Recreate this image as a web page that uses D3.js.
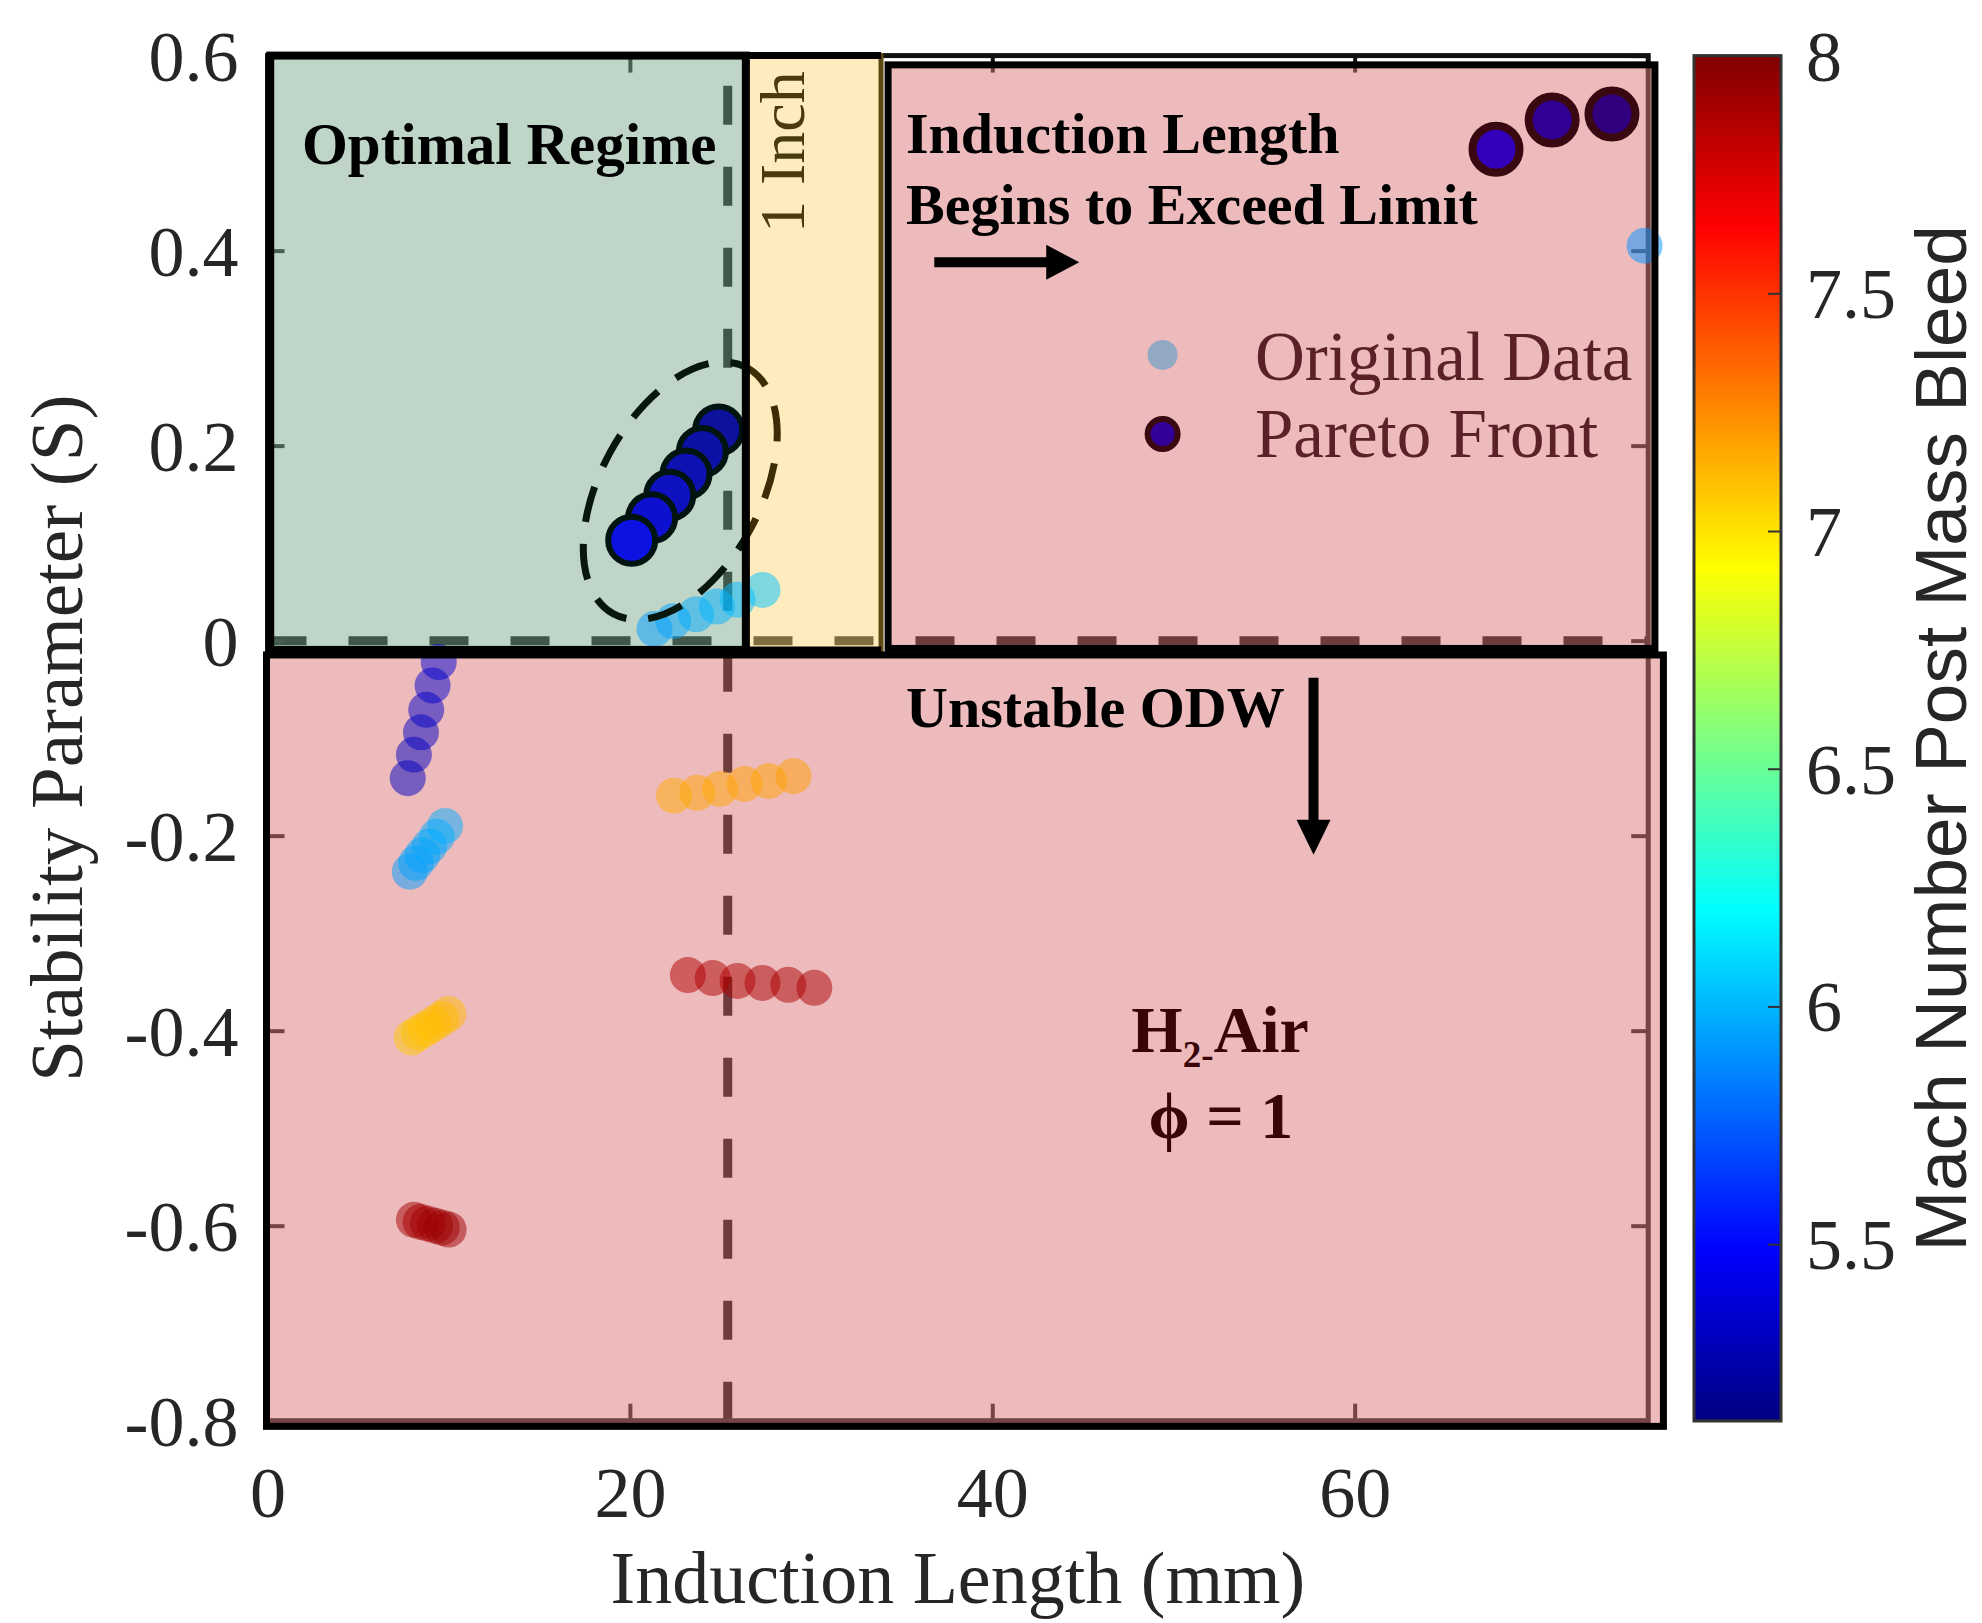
<!DOCTYPE html>
<html><head><meta charset="utf-8">
<script src="https://cdn.jsdelivr.net/npm/d3@7"></script>
<style>html,body{margin:0;padding:0;background:#fff;}svg{display:block;}</style>
</head><body>
<svg id="chart" width="1982" height="1623"></svg>
<script>
// ---------------- data ----------------
const xTickValues = [0, 20, 40, 60];
const yTickValues = [0.6, 0.4, 0.2, 0, -0.2, -0.4, -0.6, -0.8];
const cbTickValues = [5.5, 6, 6.5, 7, 7.5, 8];

// Original data (induction length mm, stability parameter S, Mach number post bleed)
const origX = [9.45, 9.11, 8.76, 8.47, 8.08, 7.74,
               7.85, 8.20, 8.54, 8.93, 9.34, 9.80,
               7.96, 8.35, 8.75, 9.17, 9.58, 9.98,
               8.08, 8.45, 8.85, 9.25, 9.62, 10.0,
               22.43, 23.72, 24.98, 26.33, 27.66, 29.03,
               23.2, 24.57, 25.94, 27.32, 28.74, 30.18,
               21.36, 22.39, 23.65, 24.8, 25.94, 27.32,
               76.0];
const origY = [-0.022, -0.046, -0.071, -0.094, -0.117, -0.141,
               -0.237, -0.228, -0.220, -0.211, -0.201, -0.190,
               -0.407, -0.402, -0.398, -0.393, -0.388, -0.383,
               -0.594, -0.596, -0.598, -0.600, -0.602, -0.604,
               -0.159, -0.156, -0.152, -0.147, -0.144, -0.139,
               -0.343, -0.346, -0.349, -0.351, -0.353, -0.356,
               0.012, 0.020, 0.027, 0.035, 0.042, 0.052,
               0.405];
const origMach = [5.35, 5.34, 5.33, 5.32, 5.31, 5.30,
                  5.93, 5.94, 5.95, 5.96, 5.97, 5.98,
                  7.08, 7.09, 7.10, 7.10, 7.11, 7.12,
                  7.90, 7.90, 7.91, 7.91, 7.92, 7.92,
                  7.16, 7.17, 7.17, 7.18, 7.18, 7.19,
                  7.86, 7.87, 7.87, 7.88, 7.88, 7.89,
                  5.93, 5.95, 5.97, 5.99, 6.01, 6.04,
                  5.90];

// Pareto front
const paretoX = [20.1, 21.2, 22.2, 23.1, 24.0, 24.9, 67.8, 70.9, 74.2];
const paretoY = [0.103, 0.126, 0.149, 0.171, 0.194, 0.216, 0.504, 0.534, 0.540];
const paretoMach = [5.43, 5.37, 5.32, 5.28, 5.24, 5.21, 5.45, 5.30, 5.22];

// shaded regions (data units)
const regionX0 = [0.15, 26.4, 34.25, -0.055];
const regionX1 = [26.4, 33.86, 76.57, 77.04];
const regionY0 = [-0.0095, -0.0095, -0.008, -0.8058];
const regionY1 = [0.6, 0.6, 0.5905, -0.0147];

const colorMin = 5.128, colorMax = 8;

// ---------------- setup ----------------
const svg = d3.select("#chart");
const defs = svg.append("defs");
const serif = "'Liberation Serif','Times New Roman',Times,serif";
const sans = "'Liberation Sans',Arial,Helvetica,sans-serif";

const x = d3.scaleLinear().domain([0, 76.2]).range([267.5, 1648.2]);
const y = d3.scaleLinear().domain([-0.8, 0.6]).range([1420.7, 55.6]);
const cbY = d3.scaleLinear().domain([colorMin, colorMax]).range([1421, 55.6]);

const jetFrac = [0, 1/8, 3/8, 5/8, 7/8, 1];
const jetCols = ["#000080", "#0000ff", "#00ffff", "#ffff00", "#ff0000", "#800000"];
const jet = d3.scaleLinear()
  .domain(jetFrac.map(f => colorMin + f * (colorMax - colorMin)))
  .range(jetCols).clamp(true);

svg.append("rect").attr("width", 1982).attr("height", 1623).attr("fill", "#fff");

// ---------------- base layer (below overlays) ----------------
const base = svg.append("g");

base.append("line")
  .attr("x1", x(25.4)).attr("x2", x(25.4))
  .attr("y1", y(-0.8)).attr("y2", y(0.6))
  .attr("stroke", "#000").attr("stroke-width", 9).attr("stroke-dasharray", "39 42");
base.append("line")
  .attr("x1", x(0)).attr("x2", x(76.2))
  .attr("y1", y(0)).attr("y2", y(0))
  .attr("stroke", "#000").attr("stroke-width", 9).attr("stroke-dasharray", "39 42");

base.append("rect")
  .attr("x", x(0)).attr("y", y(0.6))
  .attr("width", x(76.2) - x(0)).attr("height", y(-0.8) - y(0.6))
  .attr("fill", "none").attr("stroke", "#111").attr("stroke-width", 5);

function styleAxis(g, tickW) {
  g.select(".domain").remove();
  g.selectAll(".tick line").attr("stroke", "#111").attr("stroke-width", tickW);
  g.selectAll(".tick text").attr("font-family", serif).attr("font-size", 72).attr("fill", "#262626");
}
const fmt = d => String(d);

const xAxisB = base.append("g").attr("transform", `translate(0,${y(-0.8)})`)
  .call(d3.axisBottom(x).tickValues(xTickValues).tickFormat(fmt).tickSizeInner(-17).tickSizeOuter(0).tickPadding(45));
styleAxis(xAxisB, 4);
const xAxisT = base.append("g").attr("transform", `translate(0,${y(0.6)})`)
  .call(d3.axisTop(x).tickValues(xTickValues).tickFormat("").tickSizeInner(-17).tickSizeOuter(0));
styleAxis(xAxisT, 4);
const yAxisL = base.append("g").attr("transform", `translate(${x(0)},0)`)
  .call(d3.axisLeft(y).tickValues(yTickValues).tickFormat(fmt).tickSizeInner(-17).tickSizeOuter(0).tickPadding(29));
styleAxis(yAxisL, 4);
yAxisL.selectAll(".tick text").attr("dy", "0.34em");
const yAxisR = base.append("g").attr("transform", `translate(${x(76.2)},0)`)
  .call(d3.axisRight(y).tickValues(yTickValues).tickFormat("").tickSizeInner(-17).tickSizeOuter(0));
styleAxis(yAxisR, 4);

base.append("text").attr("x", (x(0) + x(76.2)) / 2).attr("y", 1603)
  .attr("text-anchor", "middle").attr("font-family", serif).attr("font-size", 74).attr("fill", "#262626")
  .text("Induction Length (mm)");
base.append("text").attr("transform", `translate(82,${(y(0.6) + y(-0.8)) / 2}) rotate(-90)`)
  .attr("text-anchor", "middle").attr("font-family", serif).attr("font-size", 75).attr("fill", "#262626")
  .text("Stability Parameter (S)");

// ---------------- colorbar ----------------
const grad = defs.append("linearGradient").attr("id", "jetGrad")
  .attr("x1", 0).attr("y1", 1).attr("x2", 0).attr("y2", 0);
jetFrac.forEach((f, i) => grad.append("stop").attr("offset", f).attr("stop-color", jetCols[i]));
const cbX0 = 1694, cbX1 = 1781;
svg.append("rect").attr("x", cbX0).attr("y", cbY(colorMax))
  .attr("width", cbX1 - cbX0).attr("height", cbY(colorMin) - cbY(colorMax))
  .attr("fill", "url(#jetGrad)").attr("stroke", "#333").attr("stroke-width", 3);
const cbAxis = svg.append("g").attr("transform", `translate(${cbX1},0)`)
  .call(d3.axisRight(cbY).tickValues(cbTickValues).tickFormat(fmt).tickSizeInner(-13).tickSizeOuter(0).tickPadding(25));
cbAxis.select(".domain").remove();
cbAxis.selectAll(".tick line").attr("stroke", "#333").attr("stroke-width", 2);
cbAxis.selectAll(".tick text").attr("font-family", serif).attr("font-size", 72).attr("fill", "#262626").attr("dy", "0.34em");
svg.append("text").attr("transform", `translate(1966,${(cbY(colorMin) + cbY(colorMax)) / 2}) rotate(-90)`)
  .attr("text-anchor", "middle").attr("font-family", sans).attr("font-size", 73).attr("fill", "#262626")
  .text("Mach Number Post Mass Bleed");

// ---------------- overlays ----------------
const overlayFill = ["rgba(125,171,145,0.5)", "rgba(255,217,125,0.5)", "rgba(221,119,123,0.5)", "rgba(221,119,123,0.5)"];
const over = svg.append("g");
regionX0.forEach((v, i) => {
  over.append("rect")
    .attr("x", x(regionX0[i])).attr("y", y(regionY1[i]))
    .attr("width", x(regionX1[i]) - x(regionX0[i]))
    .attr("height", y(regionY0[i]) - y(regionY1[i]))
    .attr("fill", overlayFill[i]);
});

// ---------------- points ----------------
const pts = svg.append("g");
const origData = origX.map((v, i) => ({ x: v, y: origY[i], m: origMach[i] }));
pts.append("g").selectAll("circle").data(origData).join("circle")
  .attr("cx", d => x(d.x)).attr("cy", d => y(d.y)).attr("r", 18)
  .attr("fill", d => jet(d.m)).attr("fill-opacity", 0.5);

["optimal", "inch"].forEach((nm, i) => {
  defs.append("clipPath").attr("id", "clip-" + nm).append("rect")
    .attr("x", x(regionX0[i])).attr("y", 0)
    .attr("width", x(regionX1[i]) - x(regionX0[i])).attr("height", 1623);
});
const ellCx = x(22.78), ellCy = y(0.1537);
[["optimal", "#08170e"], ["inch", "#3d2d06"]].forEach(([nm, col]) => {
  pts.append("g").attr("clip-path", `url(#clip-${nm})`)
    .append("ellipse")
    .attr("transform", `translate(${ellCx},${ellCy}) rotate(-61.5)`)
    .attr("rx", 140).attr("ry", 80)
    .attr("fill", "none").attr("stroke", col).attr("stroke-width", 7)
    .attr("stroke-dasharray", "36 22").attr("stroke-dashoffset", 10);
});

const paretoData = paretoX.map((v, i) => ({ x: v, y: paretoY[i], m: paretoMach[i] }));
const paretoOrdered = paretoData.filter(d => d.x < 40).sort((a, b) => b.x - a.x)
  .concat(paretoData.filter(d => d.x >= 40));
pts.append("g").selectAll("circle").data(paretoOrdered).join("circle")
  .attr("cx", d => x(d.x)).attr("cy", d => y(d.y)).attr("r", 23.5)
  .attr("fill", d => d.x < 40 ? d3.interpolateRgb(jet(d.m), "#7dab91")(0.1) : d3.interpolateRgb(jet(d.m), "#b40028")(0.28))
  .attr("stroke", d => d.x < 40 ? "#021410" : "#3a0810")
  .attr("stroke-width", d => d.x < 40 ? 6 : 8);

// ---------------- region borders ----------------
const borders = svg.append("g").attr("fill", "none");
borders.append("rect")
  .attr("x", x(regionX0[1])).attr("y", y(regionY1[1]))
  .attr("width", x(regionX1[1]) - x(regionX0[1])).attr("height", y(regionY0[1]) - y(regionY1[1]))
  .attr("stroke", "#5c4a12").attr("stroke-width", 5);
borders.append("path")
  .attr("d", `M${x(regionX1[1])},${y(regionY1[1])}H${x(regionX0[1])}V${y(regionY0[1])}H${x(regionX1[1])}`)
  .attr("stroke", "#000").attr("stroke-width", 7);
borders.append("rect")
  .attr("x", x(regionX0[0])).attr("y", y(regionY1[0]))
  .attr("width", x(regionX1[0]) - x(regionX0[0])).attr("height", y(regionY0[0]) - y(regionY1[0]))
  .attr("stroke", "#000").attr("stroke-width", 8);
borders.append("rect")
  .attr("x", x(regionX0[2])).attr("y", y(regionY1[2]))
  .attr("width", x(regionX1[2]) - x(regionX0[2])).attr("height", y(regionY0[2]) - y(regionY1[2]))
  .attr("stroke", "#000").attr("stroke-width", 7);
borders.append("rect")
  .attr("x", x(regionX0[3])).attr("y", y(regionY1[3]))
  .attr("width", x(regionX1[3]) - x(regionX0[3])).attr("height", y(regionY0[3]) - y(regionY1[3]))
  .attr("stroke", "#000").attr("stroke-width", 7);

// ---------------- annotations ----------------
const ann = svg.append("g");
function label(xv, yv, str, size, opts = {}) {
  return ann.append("text").attr("x", x(xv)).attr("y", y(yv))
    .attr("font-family", serif).attr("font-size", size)
    .attr("font-weight", opts.bold ? "bold" : "normal")
    .attr("fill", opts.fill || "#000")
    .attr("text-anchor", opts.anchor || "start")
    .text(str);
}
label(1.9, 0.489, "Optimal Regime", 59, { bold: true });
label(35.24, 0.500, "Induction Length", 58, { bold: true });
label(35.24, 0.427, "Begins to Exceed Limit", 58, { bold: true });
label(35.24, -0.0884, "Unstable ODW", 58, { bold: true });

const ax0 = x(36.8), ax1 = x(44.8), ay = y(0.388);
ann.append("line").attr("x1", ax0).attr("x2", ax1 - 30).attr("y1", ay).attr("y2", ay)
  .attr("stroke", "#000").attr("stroke-width", 10);
ann.append("path").attr("d", `M${ax1},${ay}L${ax1 - 33},${ay - 17.5}L${ax1 - 33},${ay + 17.5}Z`).attr("fill", "#000");
const dX = x(57.73), dY0 = y(-0.038), dY1 = y(-0.2197);
ann.append("line").attr("x1", dX).attr("x2", dX).attr("y1", dY0).attr("y2", dY1 - 30)
  .attr("stroke", "#000").attr("stroke-width", 10);
ann.append("path").attr("d", `M${dX},${dY1}L${dX - 17},${dY1 - 35}L${dX + 17},${dY1 - 35}Z`).attr("fill", "#000");

ann.append("text").attr("transform", `translate(${x(29.6)},${y(0.418)}) rotate(-90)`)
  .attr("font-family", serif).attr("font-size", 64).attr("fill", "#4a3a10").text("1 Inch");

const h2 = ann.append("text").attr("x", x(52.57)).attr("y", y(-0.422))
  .attr("text-anchor", "middle").attr("font-family", serif).attr("font-weight", "bold")
  .attr("font-size", 66).attr("fill", "#3a0507");
h2.append("tspan").text("H");
h2.append("tspan").attr("font-size", 37).attr("dy", 15).text("2-");
h2.append("tspan").attr("dy", -15).text("Air");
label(52.62, -0.5105, "\u03D5 = 1", 66, { bold: true, fill: "#3a0507", anchor: "middle" });

const legendLabels = ["Original Data", "Pareto Front"];
const legY = [0.293, 0.212];
const legTextY = [0.2675, 0.1885];
ann.append("circle").attr("cx", x(49.4)).attr("cy", y(legY[0])).attr("r", 15).attr("fill", "#93a9c3");
ann.append("circle").attr("cx", x(49.4)).attr("cy", y(legY[1])).attr("r", 15)
  .attr("fill", "#330099").attr("stroke", "#3a0810").attr("stroke-width", 6);
legendLabels.forEach((t, i) => label(54.5, legTextY[i], t, 69, { fill: "#5a2226" }));
</script>
</body></html>
